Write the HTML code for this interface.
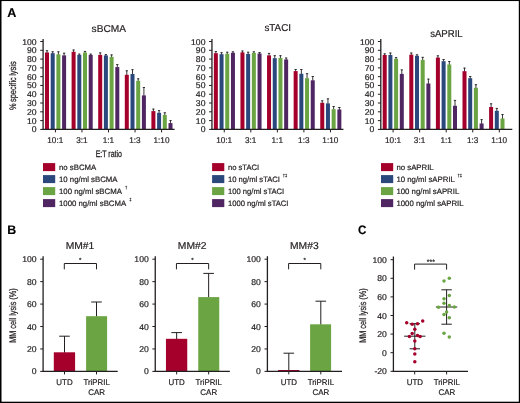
<!DOCTYPE html>
<html lang="en">
<head>
<meta charset="utf-8">
<title>Figure</title>
<style>
html,body{margin:0;padding:0;background:#fff;}
body{width:520px;height:403px;overflow:hidden;}
svg{display:block;font-family:"Liberation Sans",sans-serif;text-rendering:geometricPrecision;}
</style>
</head>
<body>
<svg width="520" height="403" viewBox="0 0 520 403">
<rect x="0" y="0" width="520" height="403" fill="#fff"/>
<rect x="0" y="0" width="520" height="1.05" fill="#000"/>
<rect x="0" y="0" width="1.5" height="403" fill="#000"/>
<rect x="518.8" y="0" width="1.2" height="403" fill="#000"/>
<rect x="0" y="401.7" width="520" height="1.3" fill="#000"/>
<text transform="translate(7.3 16.8)" font-size="12.6" text-anchor="start" font-weight="bold" fill="#000" stroke="#000" stroke-width="0.15">A</text>
<text transform="translate(7.2 233.9)" font-size="12.4" text-anchor="start" font-weight="bold" fill="#000" stroke="#000" stroke-width="0.15">B</text>
<text transform="translate(358.1 233.9) scale(0.95 1)" font-size="12.3" text-anchor="start" font-weight="bold" fill="#000" stroke="#000" stroke-width="0.15">C</text>
<line x1="47" y1="50.4" x2="47" y2="53" stroke="#231f20" stroke-width="0.9"/>
<line x1="45.85" y1="50.7" x2="48.15" y2="50.7" stroke="#231f20" stroke-width="0.9"/>
<rect x="45" y="52.5" width="4" height="76.9" fill="#a4002b"/>
<line x1="52.7" y1="51.5" x2="52.7" y2="53.7" stroke="#231f20" stroke-width="0.9"/>
<line x1="51.55" y1="51.8" x2="53.85" y2="51.8" stroke="#231f20" stroke-width="0.9"/>
<rect x="50.7" y="53.2" width="4" height="76.2" fill="#2a487c"/>
<line x1="58.4" y1="51.5" x2="58.4" y2="54.8" stroke="#231f20" stroke-width="0.9"/>
<line x1="57.25" y1="51.8" x2="59.55" y2="51.8" stroke="#231f20" stroke-width="0.9"/>
<rect x="56.4" y="54.3" width="4" height="75.1" fill="#6ba543"/>
<line x1="64.1" y1="52.9" x2="64.1" y2="55.9" stroke="#231f20" stroke-width="0.9"/>
<line x1="62.95" y1="53.2" x2="65.25" y2="53.2" stroke="#231f20" stroke-width="0.9"/>
<rect x="62.1" y="55.4" width="4" height="74" fill="#4f2562"/>
<line x1="73.6" y1="49.7" x2="73.6" y2="52.3" stroke="#231f20" stroke-width="0.9"/>
<line x1="72.45" y1="50" x2="74.75" y2="50" stroke="#231f20" stroke-width="0.9"/>
<rect x="71.6" y="51.8" width="4" height="77.6" fill="#a4002b"/>
<line x1="79.3" y1="53.8" x2="79.3" y2="55.4" stroke="#231f20" stroke-width="0.9"/>
<line x1="78.15" y1="54.1" x2="80.45" y2="54.1" stroke="#231f20" stroke-width="0.9"/>
<rect x="77.3" y="54.9" width="4" height="74.5" fill="#2a487c"/>
<line x1="85" y1="51.1" x2="85" y2="53.1" stroke="#231f20" stroke-width="0.9"/>
<line x1="83.85" y1="51.4" x2="86.15" y2="51.4" stroke="#231f20" stroke-width="0.9"/>
<rect x="83" y="52.6" width="4" height="76.8" fill="#6ba543"/>
<line x1="90.7" y1="53.8" x2="90.7" y2="55.4" stroke="#231f20" stroke-width="0.9"/>
<line x1="89.55" y1="54.1" x2="91.85" y2="54.1" stroke="#231f20" stroke-width="0.9"/>
<rect x="88.7" y="54.9" width="4" height="74.5" fill="#4f2562"/>
<line x1="100.2" y1="52.6" x2="100.2" y2="55.4" stroke="#231f20" stroke-width="0.9"/>
<line x1="99.05" y1="52.9" x2="101.35" y2="52.9" stroke="#231f20" stroke-width="0.9"/>
<rect x="98.2" y="54.9" width="4" height="74.5" fill="#a4002b"/>
<line x1="105.9" y1="54.3" x2="105.9" y2="55.9" stroke="#231f20" stroke-width="0.9"/>
<line x1="104.75" y1="54.6" x2="107.05" y2="54.6" stroke="#231f20" stroke-width="0.9"/>
<rect x="103.9" y="55.4" width="4" height="74" fill="#2a487c"/>
<line x1="111.6" y1="54.6" x2="111.6" y2="57.4" stroke="#231f20" stroke-width="0.9"/>
<line x1="110.45" y1="54.9" x2="112.75" y2="54.9" stroke="#231f20" stroke-width="0.9"/>
<rect x="109.6" y="56.9" width="4" height="72.5" fill="#6ba543"/>
<line x1="117.3" y1="64.3" x2="117.3" y2="67.6" stroke="#231f20" stroke-width="0.9"/>
<line x1="116.15" y1="64.6" x2="118.45" y2="64.6" stroke="#231f20" stroke-width="0.9"/>
<rect x="115.3" y="67.1" width="4" height="62.3" fill="#4f2562"/>
<line x1="126.8" y1="70.5" x2="126.8" y2="75.3" stroke="#231f20" stroke-width="0.9"/>
<line x1="125.65" y1="70.8" x2="127.95" y2="70.8" stroke="#231f20" stroke-width="0.9"/>
<rect x="124.8" y="74.8" width="4" height="54.6" fill="#a4002b"/>
<line x1="132.5" y1="69.4" x2="132.5" y2="74.5" stroke="#231f20" stroke-width="0.9"/>
<line x1="131.35" y1="69.7" x2="133.65" y2="69.7" stroke="#231f20" stroke-width="0.9"/>
<rect x="130.5" y="74" width="4" height="55.4" fill="#2a487c"/>
<line x1="138.2" y1="78.5" x2="138.2" y2="81.3" stroke="#231f20" stroke-width="0.9"/>
<line x1="137.05" y1="78.8" x2="139.35" y2="78.8" stroke="#231f20" stroke-width="0.9"/>
<rect x="136.2" y="80.8" width="4" height="48.6" fill="#6ba543"/>
<line x1="143.9" y1="87.2" x2="143.9" y2="95.9" stroke="#231f20" stroke-width="0.9"/>
<line x1="142.75" y1="87.5" x2="145.05" y2="87.5" stroke="#231f20" stroke-width="0.9"/>
<rect x="141.9" y="95.4" width="4" height="34" fill="#4f2562"/>
<line x1="153.4" y1="108.8" x2="153.4" y2="111.6" stroke="#231f20" stroke-width="0.9"/>
<line x1="152.25" y1="109.1" x2="154.55" y2="109.1" stroke="#231f20" stroke-width="0.9"/>
<rect x="151.4" y="111.1" width="4" height="18.3" fill="#a4002b"/>
<line x1="159.1" y1="110.3" x2="159.1" y2="113.3" stroke="#231f20" stroke-width="0.9"/>
<line x1="157.95" y1="110.6" x2="160.25" y2="110.6" stroke="#231f20" stroke-width="0.9"/>
<rect x="157.1" y="112.8" width="4" height="16.6" fill="#2a487c"/>
<line x1="164.8" y1="112.5" x2="164.8" y2="115.4" stroke="#231f20" stroke-width="0.9"/>
<line x1="163.65" y1="112.8" x2="165.95" y2="112.8" stroke="#231f20" stroke-width="0.9"/>
<rect x="162.8" y="114.9" width="4" height="14.5" fill="#6ba543"/>
<line x1="170.5" y1="120.3" x2="170.5" y2="123.6" stroke="#231f20" stroke-width="0.9"/>
<line x1="169.35" y1="120.6" x2="171.65" y2="120.6" stroke="#231f20" stroke-width="0.9"/>
<rect x="168.5" y="123.1" width="4" height="6.3" fill="#4f2562"/>
<line x1="43.1" y1="38.9" x2="43.1" y2="130.05" stroke="#231f20" stroke-width="1.3"/>
<line x1="42.45" y1="129.4" x2="174.6" y2="129.4" stroke="#231f20" stroke-width="1.3"/>
<line x1="40.2" y1="129.4" x2="43.1" y2="129.4" stroke="#231f20" stroke-width="1.0"/>
<text transform="translate(36.6 132.4) scale(1.03 1)" font-size="8.4" text-anchor="end" fill="#231f20" stroke="#231f20" stroke-width="0.2">0</text>
<line x1="40.2" y1="120.61" x2="43.1" y2="120.61" stroke="#231f20" stroke-width="1.0"/>
<text transform="translate(36.6 123.61) scale(1.03 1)" font-size="8.4" text-anchor="end" fill="#231f20" stroke="#231f20" stroke-width="0.2">10</text>
<line x1="40.2" y1="111.82" x2="43.1" y2="111.82" stroke="#231f20" stroke-width="1.0"/>
<text transform="translate(36.6 114.82) scale(1.03 1)" font-size="8.4" text-anchor="end" fill="#231f20" stroke="#231f20" stroke-width="0.2">20</text>
<line x1="40.2" y1="103.03" x2="43.1" y2="103.03" stroke="#231f20" stroke-width="1.0"/>
<text transform="translate(36.6 106.03) scale(1.03 1)" font-size="8.4" text-anchor="end" fill="#231f20" stroke="#231f20" stroke-width="0.2">30</text>
<line x1="40.2" y1="94.24" x2="43.1" y2="94.24" stroke="#231f20" stroke-width="1.0"/>
<text transform="translate(36.6 97.24) scale(1.03 1)" font-size="8.4" text-anchor="end" fill="#231f20" stroke="#231f20" stroke-width="0.2">40</text>
<line x1="40.2" y1="85.45" x2="43.1" y2="85.45" stroke="#231f20" stroke-width="1.0"/>
<text transform="translate(36.6 88.45) scale(1.03 1)" font-size="8.4" text-anchor="end" fill="#231f20" stroke="#231f20" stroke-width="0.2">50</text>
<line x1="40.2" y1="76.66" x2="43.1" y2="76.66" stroke="#231f20" stroke-width="1.0"/>
<text transform="translate(36.6 79.66) scale(1.03 1)" font-size="8.4" text-anchor="end" fill="#231f20" stroke="#231f20" stroke-width="0.2">60</text>
<line x1="40.2" y1="67.87" x2="43.1" y2="67.87" stroke="#231f20" stroke-width="1.0"/>
<text transform="translate(36.6 70.87) scale(1.03 1)" font-size="8.4" text-anchor="end" fill="#231f20" stroke="#231f20" stroke-width="0.2">70</text>
<line x1="40.2" y1="59.08" x2="43.1" y2="59.08" stroke="#231f20" stroke-width="1.0"/>
<text transform="translate(36.6 62.08) scale(1.03 1)" font-size="8.4" text-anchor="end" fill="#231f20" stroke="#231f20" stroke-width="0.2">80</text>
<line x1="40.2" y1="50.29" x2="43.1" y2="50.29" stroke="#231f20" stroke-width="1.0"/>
<text transform="translate(36.6 53.29) scale(1.03 1)" font-size="8.4" text-anchor="end" fill="#231f20" stroke="#231f20" stroke-width="0.2">90</text>
<line x1="40.2" y1="41.5" x2="43.1" y2="41.5" stroke="#231f20" stroke-width="1.0"/>
<text transform="translate(36.6 44.5) scale(1.03 1)" font-size="8.4" text-anchor="end" fill="#231f20" stroke="#231f20" stroke-width="0.2">100</text>
<line x1="55.4" y1="129.4" x2="55.4" y2="132.4" stroke="#231f20" stroke-width="1.0"/>
<text transform="translate(55.3 143.1) scale(0.98 1)" font-size="8.4" text-anchor="middle" fill="#231f20" stroke="#231f20" stroke-width="0.2">10:1</text>
<line x1="81.95" y1="129.4" x2="81.95" y2="132.4" stroke="#231f20" stroke-width="1.0"/>
<text transform="translate(81.85 143.1) scale(0.98 1)" font-size="8.4" text-anchor="middle" fill="#231f20" stroke="#231f20" stroke-width="0.2">3:1</text>
<line x1="108.5" y1="129.4" x2="108.5" y2="132.4" stroke="#231f20" stroke-width="1.0"/>
<text transform="translate(108.4 143.1) scale(0.98 1)" font-size="8.4" text-anchor="middle" fill="#231f20" stroke="#231f20" stroke-width="0.2">1:1</text>
<line x1="135.05" y1="129.4" x2="135.05" y2="132.4" stroke="#231f20" stroke-width="1.0"/>
<text transform="translate(134.95 143.1) scale(0.98 1)" font-size="8.4" text-anchor="middle" fill="#231f20" stroke="#231f20" stroke-width="0.2">1:3</text>
<line x1="161.6" y1="129.4" x2="161.6" y2="132.4" stroke="#231f20" stroke-width="1.0"/>
<text transform="translate(161.5 143.1) scale(0.98 1)" font-size="8.4" text-anchor="middle" fill="#231f20" stroke="#231f20" stroke-width="0.2">1:10</text>
<text transform="translate(108.8 31.6) scale(1.015 1)" font-size="10" text-anchor="middle" fill="#231f20" stroke="#231f20" stroke-width="0.2">sBCMA</text>
<rect x="43" y="163.1" width="12.2" height="8" fill="#a4002b"/>
<text transform="translate(59 169.65)" font-size="7.8" text-anchor="start" fill="#231f20" stroke="#231f20" stroke-width="0.2">no sBCMA</text>
<rect x="43" y="175.1" width="12.2" height="8" fill="#2a487c"/>
<text transform="translate(59 181.65)" font-size="7.8" text-anchor="start" fill="#231f20" stroke="#231f20" stroke-width="0.2">10 ng/ml sBCMA</text>
<rect x="43" y="187.1" width="12.2" height="8" fill="#6ba543"/>
<text transform="translate(59 193.65)" font-size="7.8" text-anchor="start" fill="#231f20" stroke="#231f20" stroke-width="0.2">100 ng/ml sBCMA<tspan dx="3.2" dy="-4.2" font-size="4.2" stroke-width="0.2">†</tspan></text>
<rect x="43" y="199.1" width="12.2" height="8" fill="#4f2562"/>
<text transform="translate(59 205.65)" font-size="7.8" text-anchor="start" fill="#231f20" stroke="#231f20" stroke-width="0.2">1000 ng/ml sBCMA<tspan dx="3.2" dy="-4.2" font-size="4.2" stroke-width="0.2">‡</tspan></text>
<line x1="215.85" y1="51.3" x2="215.85" y2="53.7" stroke="#231f20" stroke-width="0.9"/>
<line x1="214.7" y1="51.6" x2="217" y2="51.6" stroke="#231f20" stroke-width="0.9"/>
<rect x="213.85" y="53.2" width="4" height="76.2" fill="#a4002b"/>
<line x1="221.55" y1="52.4" x2="221.55" y2="54.7" stroke="#231f20" stroke-width="0.9"/>
<line x1="220.4" y1="52.7" x2="222.7" y2="52.7" stroke="#231f20" stroke-width="0.9"/>
<rect x="219.55" y="54.2" width="4" height="75.2" fill="#2a487c"/>
<line x1="227.25" y1="51.9" x2="227.25" y2="54.3" stroke="#231f20" stroke-width="0.9"/>
<line x1="226.1" y1="52.2" x2="228.4" y2="52.2" stroke="#231f20" stroke-width="0.9"/>
<rect x="225.25" y="53.8" width="4" height="75.6" fill="#6ba543"/>
<line x1="232.95" y1="51.5" x2="232.95" y2="53.3" stroke="#231f20" stroke-width="0.9"/>
<line x1="231.8" y1="51.8" x2="234.1" y2="51.8" stroke="#231f20" stroke-width="0.9"/>
<rect x="230.95" y="52.8" width="4" height="76.6" fill="#4f2562"/>
<line x1="242.45" y1="50.7" x2="242.45" y2="52.9" stroke="#231f20" stroke-width="0.9"/>
<line x1="241.3" y1="51" x2="243.6" y2="51" stroke="#231f20" stroke-width="0.9"/>
<rect x="240.45" y="52.4" width="4" height="77" fill="#a4002b"/>
<line x1="248.15" y1="51.9" x2="248.15" y2="54.4" stroke="#231f20" stroke-width="0.9"/>
<line x1="247" y1="52.2" x2="249.3" y2="52.2" stroke="#231f20" stroke-width="0.9"/>
<rect x="246.15" y="53.9" width="4" height="75.5" fill="#2a487c"/>
<line x1="253.85" y1="51.5" x2="253.85" y2="53.3" stroke="#231f20" stroke-width="0.9"/>
<line x1="252.7" y1="51.8" x2="255" y2="51.8" stroke="#231f20" stroke-width="0.9"/>
<rect x="251.85" y="52.8" width="4" height="76.6" fill="#6ba543"/>
<line x1="259.55" y1="52.2" x2="259.55" y2="54" stroke="#231f20" stroke-width="0.9"/>
<line x1="258.4" y1="52.5" x2="260.7" y2="52.5" stroke="#231f20" stroke-width="0.9"/>
<rect x="257.55" y="53.5" width="4" height="75.9" fill="#4f2562"/>
<line x1="269.05" y1="53.1" x2="269.05" y2="55.9" stroke="#231f20" stroke-width="0.9"/>
<line x1="267.9" y1="53.4" x2="270.2" y2="53.4" stroke="#231f20" stroke-width="0.9"/>
<rect x="267.05" y="55.4" width="4" height="74" fill="#a4002b"/>
<line x1="274.75" y1="55.4" x2="274.75" y2="58.7" stroke="#231f20" stroke-width="0.9"/>
<line x1="273.6" y1="55.7" x2="275.9" y2="55.7" stroke="#231f20" stroke-width="0.9"/>
<rect x="272.75" y="58.2" width="4" height="71.2" fill="#2a487c"/>
<line x1="280.45" y1="55.4" x2="280.45" y2="58.5" stroke="#231f20" stroke-width="0.9"/>
<line x1="279.3" y1="55.7" x2="281.6" y2="55.7" stroke="#231f20" stroke-width="0.9"/>
<rect x="278.45" y="58" width="4" height="71.4" fill="#6ba543"/>
<line x1="286.15" y1="57.7" x2="286.15" y2="60" stroke="#231f20" stroke-width="0.9"/>
<line x1="285" y1="58" x2="287.3" y2="58" stroke="#231f20" stroke-width="0.9"/>
<rect x="284.15" y="59.5" width="4" height="69.9" fill="#4f2562"/>
<line x1="295.65" y1="69.2" x2="295.65" y2="71.6" stroke="#231f20" stroke-width="0.9"/>
<line x1="294.5" y1="69.5" x2="296.8" y2="69.5" stroke="#231f20" stroke-width="0.9"/>
<rect x="293.65" y="71.1" width="4" height="58.3" fill="#a4002b"/>
<line x1="301.35" y1="69.2" x2="301.35" y2="74.3" stroke="#231f20" stroke-width="0.9"/>
<line x1="300.2" y1="69.5" x2="302.5" y2="69.5" stroke="#231f20" stroke-width="0.9"/>
<rect x="299.35" y="73.8" width="4" height="55.6" fill="#2a487c"/>
<line x1="307.05" y1="73.4" x2="307.05" y2="78.7" stroke="#231f20" stroke-width="0.9"/>
<line x1="305.9" y1="73.7" x2="308.2" y2="73.7" stroke="#231f20" stroke-width="0.9"/>
<rect x="305.05" y="78.2" width="4" height="51.2" fill="#6ba543"/>
<line x1="312.75" y1="76.2" x2="312.75" y2="80.8" stroke="#231f20" stroke-width="0.9"/>
<line x1="311.6" y1="76.5" x2="313.9" y2="76.5" stroke="#231f20" stroke-width="0.9"/>
<rect x="310.75" y="80.3" width="4" height="49.1" fill="#4f2562"/>
<line x1="322.25" y1="100.5" x2="322.25" y2="103.3" stroke="#231f20" stroke-width="0.9"/>
<line x1="321.1" y1="100.8" x2="323.4" y2="100.8" stroke="#231f20" stroke-width="0.9"/>
<rect x="320.25" y="102.8" width="4" height="26.6" fill="#a4002b"/>
<line x1="327.95" y1="98.5" x2="327.95" y2="103.9" stroke="#231f20" stroke-width="0.9"/>
<line x1="326.8" y1="98.8" x2="329.1" y2="98.8" stroke="#231f20" stroke-width="0.9"/>
<rect x="325.95" y="103.4" width="4" height="26" fill="#2a487c"/>
<line x1="333.65" y1="106.2" x2="333.65" y2="109.7" stroke="#231f20" stroke-width="0.9"/>
<line x1="332.5" y1="106.5" x2="334.8" y2="106.5" stroke="#231f20" stroke-width="0.9"/>
<rect x="331.65" y="109.2" width="4" height="20.2" fill="#6ba543"/>
<line x1="339.35" y1="107.2" x2="339.35" y2="110" stroke="#231f20" stroke-width="0.9"/>
<line x1="338.2" y1="107.5" x2="340.5" y2="107.5" stroke="#231f20" stroke-width="0.9"/>
<rect x="337.35" y="109.5" width="4" height="19.9" fill="#4f2562"/>
<line x1="211.95" y1="38.9" x2="211.95" y2="130.05" stroke="#231f20" stroke-width="1.3"/>
<line x1="211.3" y1="129.4" x2="343.45" y2="129.4" stroke="#231f20" stroke-width="1.3"/>
<line x1="209.05" y1="129.4" x2="211.95" y2="129.4" stroke="#231f20" stroke-width="1.0"/>
<text transform="translate(205.45 132.4) scale(1.03 1)" font-size="8.4" text-anchor="end" fill="#231f20" stroke="#231f20" stroke-width="0.2">0</text>
<line x1="209.05" y1="120.61" x2="211.95" y2="120.61" stroke="#231f20" stroke-width="1.0"/>
<text transform="translate(205.45 123.61) scale(1.03 1)" font-size="8.4" text-anchor="end" fill="#231f20" stroke="#231f20" stroke-width="0.2">10</text>
<line x1="209.05" y1="111.82" x2="211.95" y2="111.82" stroke="#231f20" stroke-width="1.0"/>
<text transform="translate(205.45 114.82) scale(1.03 1)" font-size="8.4" text-anchor="end" fill="#231f20" stroke="#231f20" stroke-width="0.2">20</text>
<line x1="209.05" y1="103.03" x2="211.95" y2="103.03" stroke="#231f20" stroke-width="1.0"/>
<text transform="translate(205.45 106.03) scale(1.03 1)" font-size="8.4" text-anchor="end" fill="#231f20" stroke="#231f20" stroke-width="0.2">30</text>
<line x1="209.05" y1="94.24" x2="211.95" y2="94.24" stroke="#231f20" stroke-width="1.0"/>
<text transform="translate(205.45 97.24) scale(1.03 1)" font-size="8.4" text-anchor="end" fill="#231f20" stroke="#231f20" stroke-width="0.2">40</text>
<line x1="209.05" y1="85.45" x2="211.95" y2="85.45" stroke="#231f20" stroke-width="1.0"/>
<text transform="translate(205.45 88.45) scale(1.03 1)" font-size="8.4" text-anchor="end" fill="#231f20" stroke="#231f20" stroke-width="0.2">50</text>
<line x1="209.05" y1="76.66" x2="211.95" y2="76.66" stroke="#231f20" stroke-width="1.0"/>
<text transform="translate(205.45 79.66) scale(1.03 1)" font-size="8.4" text-anchor="end" fill="#231f20" stroke="#231f20" stroke-width="0.2">60</text>
<line x1="209.05" y1="67.87" x2="211.95" y2="67.87" stroke="#231f20" stroke-width="1.0"/>
<text transform="translate(205.45 70.87) scale(1.03 1)" font-size="8.4" text-anchor="end" fill="#231f20" stroke="#231f20" stroke-width="0.2">70</text>
<line x1="209.05" y1="59.08" x2="211.95" y2="59.08" stroke="#231f20" stroke-width="1.0"/>
<text transform="translate(205.45 62.08) scale(1.03 1)" font-size="8.4" text-anchor="end" fill="#231f20" stroke="#231f20" stroke-width="0.2">80</text>
<line x1="209.05" y1="50.29" x2="211.95" y2="50.29" stroke="#231f20" stroke-width="1.0"/>
<text transform="translate(205.45 53.29) scale(1.03 1)" font-size="8.4" text-anchor="end" fill="#231f20" stroke="#231f20" stroke-width="0.2">90</text>
<line x1="209.05" y1="41.5" x2="211.95" y2="41.5" stroke="#231f20" stroke-width="1.0"/>
<text transform="translate(205.45 44.5) scale(1.03 1)" font-size="8.4" text-anchor="end" fill="#231f20" stroke="#231f20" stroke-width="0.2">100</text>
<line x1="224.25" y1="129.4" x2="224.25" y2="132.4" stroke="#231f20" stroke-width="1.0"/>
<text transform="translate(224.15 143.1) scale(0.98 1)" font-size="8.4" text-anchor="middle" fill="#231f20" stroke="#231f20" stroke-width="0.2">10:1</text>
<line x1="250.8" y1="129.4" x2="250.8" y2="132.4" stroke="#231f20" stroke-width="1.0"/>
<text transform="translate(250.7 143.1) scale(0.98 1)" font-size="8.4" text-anchor="middle" fill="#231f20" stroke="#231f20" stroke-width="0.2">3:1</text>
<line x1="277.35" y1="129.4" x2="277.35" y2="132.4" stroke="#231f20" stroke-width="1.0"/>
<text transform="translate(277.25 143.1) scale(0.98 1)" font-size="8.4" text-anchor="middle" fill="#231f20" stroke="#231f20" stroke-width="0.2">1:1</text>
<line x1="303.9" y1="129.4" x2="303.9" y2="132.4" stroke="#231f20" stroke-width="1.0"/>
<text transform="translate(303.8 143.1) scale(0.98 1)" font-size="8.4" text-anchor="middle" fill="#231f20" stroke="#231f20" stroke-width="0.2">1:3</text>
<line x1="330.45" y1="129.4" x2="330.45" y2="132.4" stroke="#231f20" stroke-width="1.0"/>
<text transform="translate(330.35 143.1) scale(0.98 1)" font-size="8.4" text-anchor="middle" fill="#231f20" stroke="#231f20" stroke-width="0.2">1:10</text>
<text transform="translate(277.7 30.5) scale(0.98 1)" font-size="10" text-anchor="middle" fill="#231f20" stroke="#231f20" stroke-width="0.2">sTACI</text>
<rect x="212.1" y="163.1" width="12.2" height="8" fill="#a4002b"/>
<text transform="translate(227.9 169.65) scale(0.98 1)" font-size="7.8" text-anchor="start" fill="#231f20" stroke="#231f20" stroke-width="0.2">no sTACI</text>
<rect x="212.1" y="175.1" width="12.2" height="8" fill="#2a487c"/>
<text transform="translate(227.9 181.65) scale(0.98 1)" font-size="7.8" text-anchor="start" fill="#231f20" stroke="#231f20" stroke-width="0.2">10 ng/ml sTACI<tspan dx="2.9" dy="-4.2" font-size="4.2" stroke-width="0.2">†‡</tspan></text>
<rect x="212.1" y="187.1" width="12.2" height="8" fill="#6ba543"/>
<text transform="translate(227.9 193.65) scale(0.98 1)" font-size="7.8" text-anchor="start" fill="#231f20" stroke="#231f20" stroke-width="0.2">100 ng/ml sTACI</text>
<rect x="212.1" y="199.1" width="12.2" height="8" fill="#4f2562"/>
<text transform="translate(227.9 205.65) scale(0.98 1)" font-size="7.8" text-anchor="start" fill="#231f20" stroke="#231f20" stroke-width="0.2">1000 ng/ml sTACI</text>
<line x1="384.7" y1="53.5" x2="384.7" y2="55.5" stroke="#231f20" stroke-width="0.9"/>
<line x1="383.55" y1="53.8" x2="385.85" y2="53.8" stroke="#231f20" stroke-width="0.9"/>
<rect x="382.7" y="55" width="4" height="74.4" fill="#a4002b"/>
<line x1="390.4" y1="52.7" x2="390.4" y2="55.5" stroke="#231f20" stroke-width="0.9"/>
<line x1="389.25" y1="53" x2="391.55" y2="53" stroke="#231f20" stroke-width="0.9"/>
<rect x="388.4" y="55" width="4" height="74.4" fill="#2a487c"/>
<line x1="396.1" y1="57.3" x2="396.1" y2="59.3" stroke="#231f20" stroke-width="0.9"/>
<line x1="394.95" y1="57.6" x2="397.25" y2="57.6" stroke="#231f20" stroke-width="0.9"/>
<rect x="394.1" y="58.8" width="4" height="70.6" fill="#6ba543"/>
<line x1="401.8" y1="69.6" x2="401.8" y2="74.4" stroke="#231f20" stroke-width="0.9"/>
<line x1="400.65" y1="69.9" x2="402.95" y2="69.9" stroke="#231f20" stroke-width="0.9"/>
<rect x="399.8" y="73.9" width="4" height="55.5" fill="#4f2562"/>
<line x1="411.3" y1="52.7" x2="411.3" y2="55.2" stroke="#231f20" stroke-width="0.9"/>
<line x1="410.15" y1="53" x2="412.45" y2="53" stroke="#231f20" stroke-width="0.9"/>
<rect x="409.3" y="54.7" width="4" height="74.7" fill="#a4002b"/>
<line x1="417" y1="54.5" x2="417" y2="56.3" stroke="#231f20" stroke-width="0.9"/>
<line x1="415.85" y1="54.8" x2="418.15" y2="54.8" stroke="#231f20" stroke-width="0.9"/>
<rect x="415" y="55.8" width="4" height="73.6" fill="#2a487c"/>
<line x1="422.7" y1="57" x2="422.7" y2="60.4" stroke="#231f20" stroke-width="0.9"/>
<line x1="421.55" y1="57.3" x2="423.85" y2="57.3" stroke="#231f20" stroke-width="0.9"/>
<rect x="420.7" y="59.9" width="4" height="69.5" fill="#6ba543"/>
<line x1="428.4" y1="78.8" x2="428.4" y2="84" stroke="#231f20" stroke-width="0.9"/>
<line x1="427.25" y1="79.1" x2="429.55" y2="79.1" stroke="#231f20" stroke-width="0.9"/>
<rect x="426.4" y="83.5" width="4" height="45.9" fill="#4f2562"/>
<line x1="437.9" y1="55.5" x2="437.9" y2="58.1" stroke="#231f20" stroke-width="0.9"/>
<line x1="436.75" y1="55.8" x2="439.05" y2="55.8" stroke="#231f20" stroke-width="0.9"/>
<rect x="435.9" y="57.6" width="4" height="71.8" fill="#a4002b"/>
<line x1="443.6" y1="59.2" x2="443.6" y2="61.7" stroke="#231f20" stroke-width="0.9"/>
<line x1="442.45" y1="59.5" x2="444.75" y2="59.5" stroke="#231f20" stroke-width="0.9"/>
<rect x="441.6" y="61.2" width="4" height="68.2" fill="#2a487c"/>
<line x1="449.3" y1="61.2" x2="449.3" y2="65" stroke="#231f20" stroke-width="0.9"/>
<line x1="448.15" y1="61.5" x2="450.45" y2="61.5" stroke="#231f20" stroke-width="0.9"/>
<rect x="447.3" y="64.5" width="4" height="64.9" fill="#6ba543"/>
<line x1="455" y1="100.1" x2="455" y2="106.3" stroke="#231f20" stroke-width="0.9"/>
<line x1="453.85" y1="100.4" x2="456.15" y2="100.4" stroke="#231f20" stroke-width="0.9"/>
<rect x="453" y="105.8" width="4" height="23.6" fill="#4f2562"/>
<line x1="464.5" y1="67.8" x2="464.5" y2="71.7" stroke="#231f20" stroke-width="0.9"/>
<line x1="463.35" y1="68.1" x2="465.65" y2="68.1" stroke="#231f20" stroke-width="0.9"/>
<rect x="462.5" y="71.2" width="4" height="58.2" fill="#a4002b"/>
<line x1="470.2" y1="76.2" x2="470.2" y2="78.7" stroke="#231f20" stroke-width="0.9"/>
<line x1="469.05" y1="76.5" x2="471.35" y2="76.5" stroke="#231f20" stroke-width="0.9"/>
<rect x="468.2" y="78.2" width="4" height="51.2" fill="#2a487c"/>
<line x1="475.9" y1="84.4" x2="475.9" y2="88.3" stroke="#231f20" stroke-width="0.9"/>
<line x1="474.75" y1="84.7" x2="477.05" y2="84.7" stroke="#231f20" stroke-width="0.9"/>
<rect x="473.9" y="87.8" width="4" height="41.6" fill="#6ba543"/>
<line x1="481.6" y1="119.3" x2="481.6" y2="124" stroke="#231f20" stroke-width="0.9"/>
<line x1="480.45" y1="119.6" x2="482.75" y2="119.6" stroke="#231f20" stroke-width="0.9"/>
<rect x="479.6" y="123.5" width="4" height="5.9" fill="#4f2562"/>
<line x1="491.1" y1="103.5" x2="491.1" y2="107.5" stroke="#231f20" stroke-width="0.9"/>
<line x1="489.95" y1="103.8" x2="492.25" y2="103.8" stroke="#231f20" stroke-width="0.9"/>
<rect x="489.1" y="107" width="4" height="22.4" fill="#a4002b"/>
<line x1="496.8" y1="108.1" x2="496.8" y2="111.3" stroke="#231f20" stroke-width="0.9"/>
<line x1="495.65" y1="108.4" x2="497.95" y2="108.4" stroke="#231f20" stroke-width="0.9"/>
<rect x="494.8" y="110.8" width="4" height="18.6" fill="#2a487c"/>
<line x1="502.5" y1="114.2" x2="502.5" y2="119" stroke="#231f20" stroke-width="0.9"/>
<line x1="501.35" y1="114.5" x2="503.65" y2="114.5" stroke="#231f20" stroke-width="0.9"/>
<rect x="500.5" y="118.5" width="4" height="10.9" fill="#6ba543"/>
<line x1="380.8" y1="38.9" x2="380.8" y2="130.05" stroke="#231f20" stroke-width="1.3"/>
<line x1="380.15" y1="129.4" x2="512.3" y2="129.4" stroke="#231f20" stroke-width="1.3"/>
<line x1="377.9" y1="129.4" x2="380.8" y2="129.4" stroke="#231f20" stroke-width="1.0"/>
<text transform="translate(374.3 132.4) scale(1.03 1)" font-size="8.4" text-anchor="end" fill="#231f20" stroke="#231f20" stroke-width="0.2">0</text>
<line x1="377.9" y1="120.61" x2="380.8" y2="120.61" stroke="#231f20" stroke-width="1.0"/>
<text transform="translate(374.3 123.61) scale(1.03 1)" font-size="8.4" text-anchor="end" fill="#231f20" stroke="#231f20" stroke-width="0.2">10</text>
<line x1="377.9" y1="111.82" x2="380.8" y2="111.82" stroke="#231f20" stroke-width="1.0"/>
<text transform="translate(374.3 114.82) scale(1.03 1)" font-size="8.4" text-anchor="end" fill="#231f20" stroke="#231f20" stroke-width="0.2">20</text>
<line x1="377.9" y1="103.03" x2="380.8" y2="103.03" stroke="#231f20" stroke-width="1.0"/>
<text transform="translate(374.3 106.03) scale(1.03 1)" font-size="8.4" text-anchor="end" fill="#231f20" stroke="#231f20" stroke-width="0.2">30</text>
<line x1="377.9" y1="94.24" x2="380.8" y2="94.24" stroke="#231f20" stroke-width="1.0"/>
<text transform="translate(374.3 97.24) scale(1.03 1)" font-size="8.4" text-anchor="end" fill="#231f20" stroke="#231f20" stroke-width="0.2">40</text>
<line x1="377.9" y1="85.45" x2="380.8" y2="85.45" stroke="#231f20" stroke-width="1.0"/>
<text transform="translate(374.3 88.45) scale(1.03 1)" font-size="8.4" text-anchor="end" fill="#231f20" stroke="#231f20" stroke-width="0.2">50</text>
<line x1="377.9" y1="76.66" x2="380.8" y2="76.66" stroke="#231f20" stroke-width="1.0"/>
<text transform="translate(374.3 79.66) scale(1.03 1)" font-size="8.4" text-anchor="end" fill="#231f20" stroke="#231f20" stroke-width="0.2">60</text>
<line x1="377.9" y1="67.87" x2="380.8" y2="67.87" stroke="#231f20" stroke-width="1.0"/>
<text transform="translate(374.3 70.87) scale(1.03 1)" font-size="8.4" text-anchor="end" fill="#231f20" stroke="#231f20" stroke-width="0.2">70</text>
<line x1="377.9" y1="59.08" x2="380.8" y2="59.08" stroke="#231f20" stroke-width="1.0"/>
<text transform="translate(374.3 62.08) scale(1.03 1)" font-size="8.4" text-anchor="end" fill="#231f20" stroke="#231f20" stroke-width="0.2">80</text>
<line x1="377.9" y1="50.29" x2="380.8" y2="50.29" stroke="#231f20" stroke-width="1.0"/>
<text transform="translate(374.3 53.29) scale(1.03 1)" font-size="8.4" text-anchor="end" fill="#231f20" stroke="#231f20" stroke-width="0.2">90</text>
<line x1="377.9" y1="41.5" x2="380.8" y2="41.5" stroke="#231f20" stroke-width="1.0"/>
<text transform="translate(374.3 44.5) scale(1.03 1)" font-size="8.4" text-anchor="end" fill="#231f20" stroke="#231f20" stroke-width="0.2">100</text>
<line x1="393.1" y1="129.4" x2="393.1" y2="132.4" stroke="#231f20" stroke-width="1.0"/>
<text transform="translate(393 143.1) scale(0.98 1)" font-size="8.4" text-anchor="middle" fill="#231f20" stroke="#231f20" stroke-width="0.2">10:1</text>
<line x1="419.65" y1="129.4" x2="419.65" y2="132.4" stroke="#231f20" stroke-width="1.0"/>
<text transform="translate(419.55 143.1) scale(0.98 1)" font-size="8.4" text-anchor="middle" fill="#231f20" stroke="#231f20" stroke-width="0.2">3:1</text>
<line x1="446.2" y1="129.4" x2="446.2" y2="132.4" stroke="#231f20" stroke-width="1.0"/>
<text transform="translate(446.1 143.1) scale(0.98 1)" font-size="8.4" text-anchor="middle" fill="#231f20" stroke="#231f20" stroke-width="0.2">1:1</text>
<line x1="472.75" y1="129.4" x2="472.75" y2="132.4" stroke="#231f20" stroke-width="1.0"/>
<text transform="translate(472.65 143.1) scale(0.98 1)" font-size="8.4" text-anchor="middle" fill="#231f20" stroke="#231f20" stroke-width="0.2">1:3</text>
<line x1="499.3" y1="129.4" x2="499.3" y2="132.4" stroke="#231f20" stroke-width="1.0"/>
<text transform="translate(499.2 143.1) scale(0.98 1)" font-size="8.4" text-anchor="middle" fill="#231f20" stroke="#231f20" stroke-width="0.2">1:10</text>
<text transform="translate(446.4 36.75) scale(0.96 1)" font-size="10" text-anchor="middle" fill="#231f20" stroke="#231f20" stroke-width="0.2">sAPRIL</text>
<rect x="381" y="163.1" width="12.2" height="8" fill="#a4002b"/>
<text transform="translate(396.4 169.65)" font-size="7.8" text-anchor="start" fill="#231f20" stroke="#231f20" stroke-width="0.2">no sAPRIL</text>
<rect x="381" y="175.1" width="12.2" height="8" fill="#2a487c"/>
<text transform="translate(396.4 181.65)" font-size="7.8" text-anchor="start" fill="#231f20" stroke="#231f20" stroke-width="0.2">10 ng/ml sAPRIL<tspan dx="2.6" dy="-4.2" font-size="4.2" stroke-width="0.2">†‡</tspan></text>
<rect x="381" y="187.1" width="12.2" height="8" fill="#6ba543"/>
<text transform="translate(396.4 193.65)" font-size="7.8" text-anchor="start" fill="#231f20" stroke="#231f20" stroke-width="0.2">100 ng/ml sAPRIL</text>
<rect x="381" y="199.1" width="12.2" height="8" fill="#4f2562"/>
<text transform="translate(396.4 205.65)" font-size="7.8" text-anchor="start" fill="#231f20" stroke="#231f20" stroke-width="0.2">1000 ng/ml sAPRIL</text>
<text transform="translate(15.6 85.7) rotate(-90) scale(0.775 1)" font-size="9.6" text-anchor="middle" fill="#231f20" stroke="#231f20" stroke-width="0.25" word-spacing="-0.8">% specific lysis</text>
<text transform="translate(108.8 157) scale(0.73 1)" font-size="9.6" text-anchor="middle" fill="#231f20" stroke="#231f20" stroke-width="0.3">E:T ratio</text>
<line x1="64.5" y1="336.2" x2="64.5" y2="352.8" stroke="#231f20" stroke-width="1.0"/>
<line x1="59.2" y1="336.2" x2="69.8" y2="336.2" stroke="#231f20" stroke-width="1.0"/>
<line x1="96.5" y1="302" x2="96.5" y2="316.7" stroke="#231f20" stroke-width="1.0"/>
<line x1="91.2" y1="302" x2="101.8" y2="302" stroke="#231f20" stroke-width="1.0"/>
<rect x="53.8" y="352.3" width="21.3" height="19.1" fill="#a4002b"/>
<rect x="86.1" y="316.2" width="21" height="55.2" fill="#6ba543"/>
<line x1="43.1" y1="256.2" x2="43.1" y2="372.05" stroke="#231f20" stroke-width="1.3"/>
<line x1="42.45" y1="371.4" x2="117.7" y2="371.4" stroke="#231f20" stroke-width="1.3"/>
<line x1="40.2" y1="371.4" x2="43.1" y2="371.4" stroke="#231f20" stroke-width="1.0"/>
<text transform="translate(36.6 374.4) scale(1.03 1)" font-size="8.4" text-anchor="end" fill="#231f20" stroke="#231f20" stroke-width="0.2">0</text>
<line x1="40.2" y1="348.96" x2="43.1" y2="348.96" stroke="#231f20" stroke-width="1.0"/>
<text transform="translate(36.6 351.96) scale(1.03 1)" font-size="8.4" text-anchor="end" fill="#231f20" stroke="#231f20" stroke-width="0.2">20</text>
<line x1="40.2" y1="326.52" x2="43.1" y2="326.52" stroke="#231f20" stroke-width="1.0"/>
<text transform="translate(36.6 329.52) scale(1.03 1)" font-size="8.4" text-anchor="end" fill="#231f20" stroke="#231f20" stroke-width="0.2">40</text>
<line x1="40.2" y1="304.08" x2="43.1" y2="304.08" stroke="#231f20" stroke-width="1.0"/>
<text transform="translate(36.6 307.08) scale(1.03 1)" font-size="8.4" text-anchor="end" fill="#231f20" stroke="#231f20" stroke-width="0.2">60</text>
<line x1="40.2" y1="281.64" x2="43.1" y2="281.64" stroke="#231f20" stroke-width="1.0"/>
<text transform="translate(36.6 284.64) scale(1.03 1)" font-size="8.4" text-anchor="end" fill="#231f20" stroke="#231f20" stroke-width="0.2">80</text>
<line x1="40.2" y1="259.2" x2="43.1" y2="259.2" stroke="#231f20" stroke-width="1.0"/>
<text transform="translate(36.6 262.2) scale(1.03 1)" font-size="8.4" text-anchor="end" fill="#231f20" stroke="#231f20" stroke-width="0.2">100</text>
<line x1="64.5" y1="371.4" x2="64.5" y2="374.4" stroke="#231f20" stroke-width="1.0"/>
<line x1="96.5" y1="371.4" x2="96.5" y2="374.4" stroke="#231f20" stroke-width="1.0"/>
<text transform="translate(64.5 385.1) scale(0.97 1)" font-size="8.2" text-anchor="middle" fill="#231f20" stroke="#231f20" stroke-width="0.2">UTD</text>
<text transform="translate(96.6 385.1) scale(0.96 1)" font-size="8.2" text-anchor="middle" fill="#231f20" stroke="#231f20" stroke-width="0.2">TriPRIL</text>
<text transform="translate(96.6 394.9) scale(0.97 1)" font-size="8.2" text-anchor="middle" fill="#231f20" stroke="#231f20" stroke-width="0.2">CAR</text>
<text transform="translate(80 248.5) scale(1.03 1)" font-size="10" text-anchor="middle" fill="#231f20" stroke="#231f20" stroke-width="0.2">MM#1</text>
<path d="M64.3 269.3V263.5H96.5V269.3" fill="none" stroke="#231f20" stroke-width="1"/>
<text transform="translate(80.3 262.4) scale(1.03 1)" font-size="6" text-anchor="middle" fill="#231f20" stroke="#231f20" stroke-width="0.2">*</text>
<line x1="176.65" y1="332.6" x2="176.65" y2="339.3" stroke="#231f20" stroke-width="1.0"/>
<line x1="171.35" y1="332.6" x2="181.95" y2="332.6" stroke="#231f20" stroke-width="1.0"/>
<line x1="208.65" y1="273.4" x2="208.65" y2="297.6" stroke="#231f20" stroke-width="1.0"/>
<line x1="203.35" y1="273.4" x2="213.95" y2="273.4" stroke="#231f20" stroke-width="1.0"/>
<rect x="165.95" y="338.8" width="21.3" height="32.6" fill="#a4002b"/>
<rect x="198.25" y="297.1" width="21" height="74.3" fill="#6ba543"/>
<line x1="155.25" y1="256.2" x2="155.25" y2="372.05" stroke="#231f20" stroke-width="1.3"/>
<line x1="154.6" y1="371.4" x2="229.85" y2="371.4" stroke="#231f20" stroke-width="1.3"/>
<line x1="152.35" y1="371.4" x2="155.25" y2="371.4" stroke="#231f20" stroke-width="1.0"/>
<text transform="translate(148.75 374.4) scale(1.03 1)" font-size="8.4" text-anchor="end" fill="#231f20" stroke="#231f20" stroke-width="0.2">0</text>
<line x1="152.35" y1="348.96" x2="155.25" y2="348.96" stroke="#231f20" stroke-width="1.0"/>
<text transform="translate(148.75 351.96) scale(1.03 1)" font-size="8.4" text-anchor="end" fill="#231f20" stroke="#231f20" stroke-width="0.2">20</text>
<line x1="152.35" y1="326.52" x2="155.25" y2="326.52" stroke="#231f20" stroke-width="1.0"/>
<text transform="translate(148.75 329.52) scale(1.03 1)" font-size="8.4" text-anchor="end" fill="#231f20" stroke="#231f20" stroke-width="0.2">40</text>
<line x1="152.35" y1="304.08" x2="155.25" y2="304.08" stroke="#231f20" stroke-width="1.0"/>
<text transform="translate(148.75 307.08) scale(1.03 1)" font-size="8.4" text-anchor="end" fill="#231f20" stroke="#231f20" stroke-width="0.2">60</text>
<line x1="152.35" y1="281.64" x2="155.25" y2="281.64" stroke="#231f20" stroke-width="1.0"/>
<text transform="translate(148.75 284.64) scale(1.03 1)" font-size="8.4" text-anchor="end" fill="#231f20" stroke="#231f20" stroke-width="0.2">80</text>
<line x1="152.35" y1="259.2" x2="155.25" y2="259.2" stroke="#231f20" stroke-width="1.0"/>
<text transform="translate(148.75 262.2) scale(1.03 1)" font-size="8.4" text-anchor="end" fill="#231f20" stroke="#231f20" stroke-width="0.2">100</text>
<line x1="176.65" y1="371.4" x2="176.65" y2="374.4" stroke="#231f20" stroke-width="1.0"/>
<line x1="208.65" y1="371.4" x2="208.65" y2="374.4" stroke="#231f20" stroke-width="1.0"/>
<text transform="translate(176.65 385.1) scale(0.97 1)" font-size="8.2" text-anchor="middle" fill="#231f20" stroke="#231f20" stroke-width="0.2">UTD</text>
<text transform="translate(208.75 385.1) scale(0.96 1)" font-size="8.2" text-anchor="middle" fill="#231f20" stroke="#231f20" stroke-width="0.2">TriPRIL</text>
<text transform="translate(208.75 394.9) scale(0.97 1)" font-size="8.2" text-anchor="middle" fill="#231f20" stroke="#231f20" stroke-width="0.2">CAR</text>
<text transform="translate(192.15 248.5) scale(1.03 1)" font-size="10" text-anchor="middle" fill="#231f20" stroke="#231f20" stroke-width="0.2">MM#2</text>
<path d="M176.45 269.3V263.5H208.65V269.3" fill="none" stroke="#231f20" stroke-width="1"/>
<text transform="translate(192.45 262.4) scale(1.03 1)" font-size="6" text-anchor="middle" fill="#231f20" stroke="#231f20" stroke-width="0.2">*</text>
<line x1="288.8" y1="353.2" x2="288.8" y2="370.5" stroke="#231f20" stroke-width="1.0"/>
<line x1="283.5" y1="353.2" x2="294.1" y2="353.2" stroke="#231f20" stroke-width="1.0"/>
<line x1="320.8" y1="301.2" x2="320.8" y2="324.8" stroke="#231f20" stroke-width="1.0"/>
<line x1="315.5" y1="301.2" x2="326.1" y2="301.2" stroke="#231f20" stroke-width="1.0"/>
<rect x="278.1" y="370" width="21.3" height="1.4" fill="#a4002b"/>
<rect x="310.1" y="324.3" width="21" height="47.1" fill="#6ba543"/>
<line x1="267.4" y1="256.2" x2="267.4" y2="372.05" stroke="#231f20" stroke-width="1.3"/>
<line x1="266.75" y1="371.4" x2="342" y2="371.4" stroke="#231f20" stroke-width="1.3"/>
<line x1="264.5" y1="371.4" x2="267.4" y2="371.4" stroke="#231f20" stroke-width="1.0"/>
<text transform="translate(260.9 374.4) scale(1.03 1)" font-size="8.4" text-anchor="end" fill="#231f20" stroke="#231f20" stroke-width="0.2">0</text>
<line x1="264.5" y1="348.96" x2="267.4" y2="348.96" stroke="#231f20" stroke-width="1.0"/>
<text transform="translate(260.9 351.96) scale(1.03 1)" font-size="8.4" text-anchor="end" fill="#231f20" stroke="#231f20" stroke-width="0.2">20</text>
<line x1="264.5" y1="326.52" x2="267.4" y2="326.52" stroke="#231f20" stroke-width="1.0"/>
<text transform="translate(260.9 329.52) scale(1.03 1)" font-size="8.4" text-anchor="end" fill="#231f20" stroke="#231f20" stroke-width="0.2">40</text>
<line x1="264.5" y1="304.08" x2="267.4" y2="304.08" stroke="#231f20" stroke-width="1.0"/>
<text transform="translate(260.9 307.08) scale(1.03 1)" font-size="8.4" text-anchor="end" fill="#231f20" stroke="#231f20" stroke-width="0.2">60</text>
<line x1="264.5" y1="281.64" x2="267.4" y2="281.64" stroke="#231f20" stroke-width="1.0"/>
<text transform="translate(260.9 284.64) scale(1.03 1)" font-size="8.4" text-anchor="end" fill="#231f20" stroke="#231f20" stroke-width="0.2">80</text>
<line x1="264.5" y1="259.2" x2="267.4" y2="259.2" stroke="#231f20" stroke-width="1.0"/>
<text transform="translate(260.9 262.2) scale(1.03 1)" font-size="8.4" text-anchor="end" fill="#231f20" stroke="#231f20" stroke-width="0.2">100</text>
<line x1="288.8" y1="371.4" x2="288.8" y2="374.4" stroke="#231f20" stroke-width="1.0"/>
<line x1="320.8" y1="371.4" x2="320.8" y2="374.4" stroke="#231f20" stroke-width="1.0"/>
<text transform="translate(288.8 385.1) scale(0.97 1)" font-size="8.2" text-anchor="middle" fill="#231f20" stroke="#231f20" stroke-width="0.2">UTD</text>
<text transform="translate(320.9 385.1) scale(0.96 1)" font-size="8.2" text-anchor="middle" fill="#231f20" stroke="#231f20" stroke-width="0.2">TriPRIL</text>
<text transform="translate(320.9 394.9) scale(0.97 1)" font-size="8.2" text-anchor="middle" fill="#231f20" stroke="#231f20" stroke-width="0.2">CAR</text>
<text transform="translate(304.3 248.5) scale(1.03 1)" font-size="10" text-anchor="middle" fill="#231f20" stroke="#231f20" stroke-width="0.2">MM#3</text>
<path d="M288.6 269.3V263.5H320.8V269.3" fill="none" stroke="#231f20" stroke-width="1"/>
<text transform="translate(304.6 262.4) scale(1.03 1)" font-size="6" text-anchor="middle" fill="#231f20" stroke="#231f20" stroke-width="0.2">*</text>
<text transform="translate(15.9 315.6) rotate(-90) scale(0.757 1)" font-size="9.6" text-anchor="middle" fill="#231f20" stroke="#231f20" stroke-width="0.25">MM cell lysis (%)</text>
<line x1="414.8" y1="323.7" x2="414.8" y2="348.8" stroke="#231f20" stroke-width="1.0"/>
<line x1="404.15" y1="336.2" x2="425.45" y2="336.2" stroke="#231f20" stroke-width="1.0"/>
<line x1="409.6" y1="323.7" x2="420" y2="323.7" stroke="#231f20" stroke-width="1.0"/>
<line x1="409.6" y1="348.8" x2="420" y2="348.8" stroke="#231f20" stroke-width="1.0"/>
<line x1="446.6" y1="289.8" x2="446.6" y2="324.2" stroke="#231f20" stroke-width="1.0"/>
<line x1="435.95" y1="307" x2="457.25" y2="307" stroke="#231f20" stroke-width="1.0"/>
<line x1="441.4" y1="289.8" x2="451.8" y2="289.8" stroke="#231f20" stroke-width="1.0"/>
<line x1="441.4" y1="324.2" x2="451.8" y2="324.2" stroke="#231f20" stroke-width="1.0"/>
<circle cx="406.7" cy="322.8" r="1.75" fill="#a4002b"/>
<circle cx="412.2" cy="324.2" r="1.75" fill="#a4002b"/>
<circle cx="417.5" cy="323.7" r="1.75" fill="#a4002b"/>
<circle cx="422.7" cy="321.1" r="1.75" fill="#a4002b"/>
<circle cx="414.8" cy="329.2" r="1.75" fill="#a4002b"/>
<circle cx="412.2" cy="333.6" r="1.75" fill="#a4002b"/>
<circle cx="409.4" cy="336.5" r="1.75" fill="#a4002b"/>
<circle cx="417.5" cy="335.6" r="1.75" fill="#a4002b"/>
<circle cx="420.1" cy="336.5" r="1.75" fill="#a4002b"/>
<circle cx="414.8" cy="340.9" r="1.75" fill="#a4002b"/>
<circle cx="414.8" cy="348.8" r="1.75" fill="#a4002b"/>
<circle cx="414.8" cy="354" r="1.75" fill="#a4002b"/>
<circle cx="414.8" cy="361.8" r="1.75" fill="#a4002b"/>
<circle cx="444" cy="280.9" r="1.75" fill="#6ba543"/>
<circle cx="449.3" cy="278.3" r="1.75" fill="#6ba543"/>
<circle cx="449.3" cy="295.6" r="1.75" fill="#6ba543"/>
<circle cx="444" cy="298.8" r="1.75" fill="#6ba543"/>
<circle cx="438.5" cy="307.2" r="1.75" fill="#6ba543"/>
<circle cx="444" cy="303.3" r="1.75" fill="#6ba543"/>
<circle cx="449.3" cy="305.6" r="1.75" fill="#6ba543"/>
<circle cx="454.3" cy="307" r="1.75" fill="#6ba543"/>
<circle cx="446.6" cy="312" r="1.75" fill="#6ba543"/>
<circle cx="444" cy="314.6" r="1.75" fill="#6ba543"/>
<circle cx="449.3" cy="317.7" r="1.75" fill="#6ba543"/>
<circle cx="444" cy="333.3" r="1.75" fill="#6ba543"/>
<circle cx="449.3" cy="337.1" r="1.75" fill="#6ba543"/>
<line x1="393.4" y1="256.5" x2="393.4" y2="372.05" stroke="#231f20" stroke-width="1.3"/>
<line x1="392.75" y1="371.4" x2="468" y2="371.4" stroke="#231f20" stroke-width="1.3"/>
<line x1="390.5" y1="371.3" x2="393.4" y2="371.3" stroke="#231f20" stroke-width="1.0"/>
<text transform="translate(386.9 374.3) scale(1.03 1)" font-size="8.4" text-anchor="end" fill="#231f20" stroke="#231f20" stroke-width="0.2">-20</text>
<line x1="390.5" y1="352.7" x2="393.4" y2="352.7" stroke="#231f20" stroke-width="1.0"/>
<text transform="translate(386.9 355.7) scale(1.03 1)" font-size="8.4" text-anchor="end" fill="#231f20" stroke="#231f20" stroke-width="0.2">0</text>
<line x1="390.5" y1="334.1" x2="393.4" y2="334.1" stroke="#231f20" stroke-width="1.0"/>
<text transform="translate(386.9 337.1) scale(1.03 1)" font-size="8.4" text-anchor="end" fill="#231f20" stroke="#231f20" stroke-width="0.2">20</text>
<line x1="390.5" y1="315.5" x2="393.4" y2="315.5" stroke="#231f20" stroke-width="1.0"/>
<text transform="translate(386.9 318.5) scale(1.03 1)" font-size="8.4" text-anchor="end" fill="#231f20" stroke="#231f20" stroke-width="0.2">40</text>
<line x1="390.5" y1="296.9" x2="393.4" y2="296.9" stroke="#231f20" stroke-width="1.0"/>
<text transform="translate(386.9 299.9) scale(1.03 1)" font-size="8.4" text-anchor="end" fill="#231f20" stroke="#231f20" stroke-width="0.2">60</text>
<line x1="390.5" y1="278.3" x2="393.4" y2="278.3" stroke="#231f20" stroke-width="1.0"/>
<text transform="translate(386.9 281.3) scale(1.03 1)" font-size="8.4" text-anchor="end" fill="#231f20" stroke="#231f20" stroke-width="0.2">80</text>
<line x1="390.5" y1="259.7" x2="393.4" y2="259.7" stroke="#231f20" stroke-width="1.0"/>
<text transform="translate(386.9 262.7) scale(1.03 1)" font-size="8.4" text-anchor="end" fill="#231f20" stroke="#231f20" stroke-width="0.2">100</text>
<line x1="414.7" y1="371.4" x2="414.7" y2="374.4" stroke="#231f20" stroke-width="1.0"/>
<line x1="446.6" y1="371.4" x2="446.6" y2="374.4" stroke="#231f20" stroke-width="1.0"/>
<text transform="translate(414.8 385.1) scale(0.97 1)" font-size="8.2" text-anchor="middle" fill="#231f20" stroke="#231f20" stroke-width="0.2">UTD</text>
<text transform="translate(446.8 385.1) scale(0.96 1)" font-size="8.2" text-anchor="middle" fill="#231f20" stroke="#231f20" stroke-width="0.2">TriPRIL</text>
<text transform="translate(446.8 394.9) scale(0.97 1)" font-size="8.2" text-anchor="middle" fill="#231f20" stroke="#231f20" stroke-width="0.2">CAR</text>
<path d="M414.6 269.6V264.1H446.6V269.6" fill="none" stroke="#231f20" stroke-width="1"/>
<text transform="translate(430.8 263.5) scale(1.03 1)" font-size="6.6" text-anchor="middle" fill="#231f20" stroke="#231f20" stroke-width="0.2">***</text>
<text transform="translate(365.9 315.6) rotate(-90) scale(0.757 1)" font-size="9.6" text-anchor="middle" fill="#231f20" stroke="#231f20" stroke-width="0.25">MM cell lysis (%)</text>
</svg>
</body>
</html>
